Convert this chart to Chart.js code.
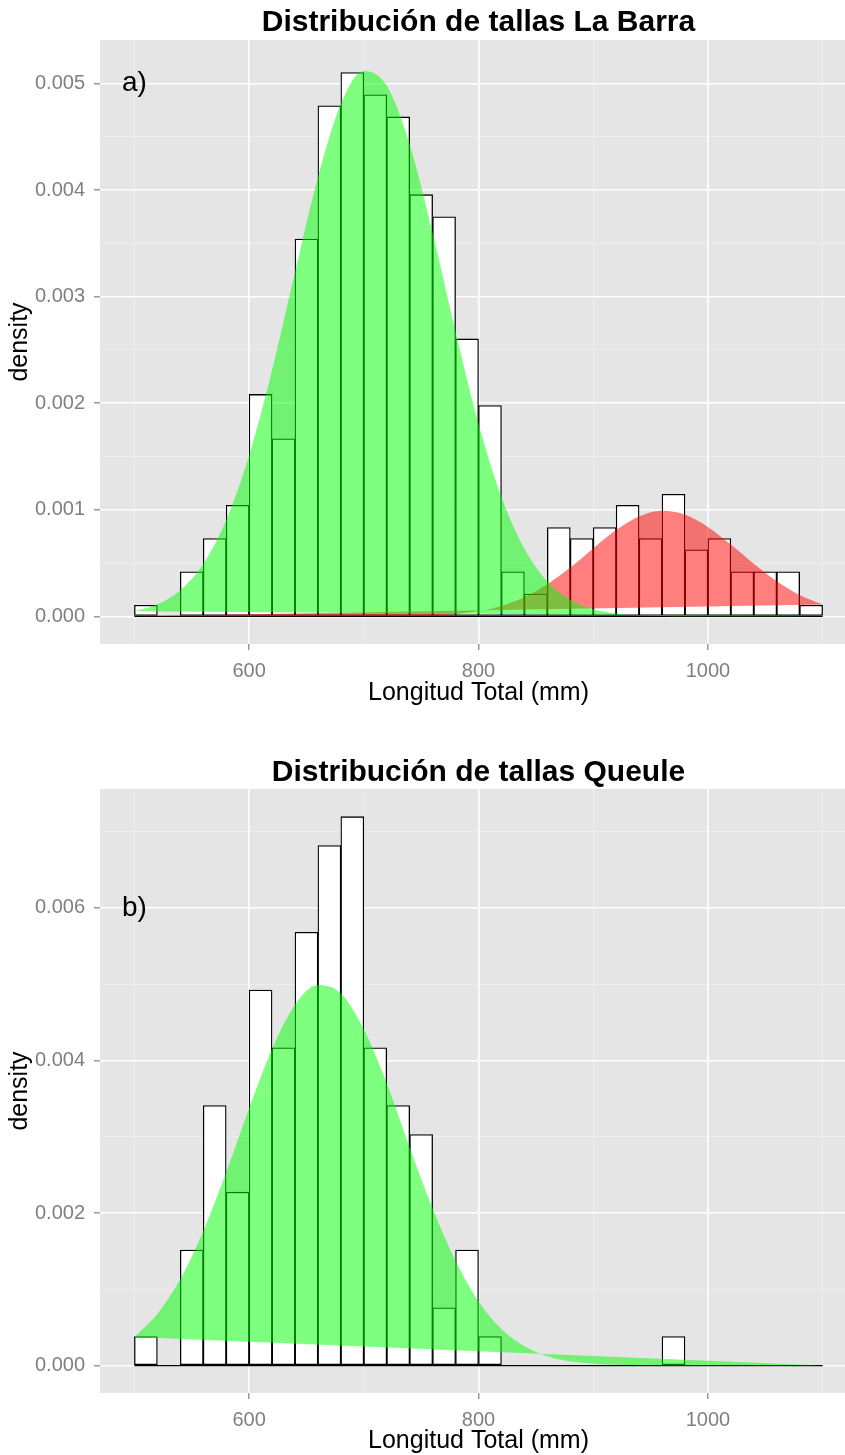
<!DOCTYPE html>
<html>
<head>
<meta charset="utf-8">
<title>Distribución de tallas</title>
<script src="https://cdn.jsdelivr.net/npm/chart.js@4.4.1/dist/chart.umd.min.js"></script>
<style>
  html, body { margin: 0; padding: 0; background: #fff; overflow: hidden; }
  canvas { position: absolute; left: 0; }
  #chartA { top: 0; }
  #chartB { top: 725px; }
</style>
</head>
<body>
<canvas id="chartA" width="857" height="725"></canvas>
<canvas id="chartB" width="857" height="730"></canvas>
<script>
'use strict';

// histogram bins (20 mm wide)
const binWidth = 20;
const binStart = [500, 520, 540, 560, 580, 600, 620, 640, 660, 680, 700, 720, 740, 760, 780,
  800, 820, 840, 860, 880, 900, 920, 940, 960, 980, 1000, 1020, 1040, 1060, 1080];

// bar heights (density)
const laBarraDensity = [0.000104, 0, 0.000417, 0.000729, 0.001042, 0.002083, 0.001667, 0.003542,
  0.004792, 0.005104, 0.004896, 0.004688, 0.003958, 0.003750, 0.002604, 0.001979, 0.000417,
  0.000208, 0.000833, 0.000729, 0.000833, 0.001042, 0.000729, 0.001146, 0.000625, 0.000729,
  0.000417, 0.000417, 0.000417, 0.000104];
const queuleDensity = [0.000379, 0, 0.001515, 0.003409, 0.002273, 0.004924, 0.004167, 0.005682,
  0.006818, 0.007197, 0.004167, 0.003409, 0.003030, 0.000758, 0.001515, 0.000379, 0, 0, 0, 0,
  0, 0, 0, 0.000379, 0, 0, 0, 0, 0, 0];

// fitted curves, read every 20 mm
const curveX = [500, 520, 540, 560, 580, 600, 620, 640, 660, 680, 700, 720, 740, 760, 780, 800,
  820, 840, 860, 880, 900, 920, 940, 960, 980, 1000, 1020, 1040, 1060, 1080, 1100];
const laBarraGreen = [0.0000464, 0.000112, 0.000245, 0.000492, 0.000902, 0.00151, 0.00231, 0.00323,
  0.00412, 0.00481, 0.00512, 0.00498, 0.00443, 0.00360, 0.00267, 0.00181, 0.00112, 0.000634,
  0.000327, 0.000155, 0.0000666, 0.0000263, 0.0000095, 0.000003, 0.000001, 0, 0, 0, 0, 0, 0];
const laBarraRed = [0, 0, 0, 0, 0, 0, 0, 0, 0, 0, 0.0000004, 0.000001, 0.000004, 0.0000092,
  0.0000221, 0.0000487, 0.0000978, 0.000179, 0.000300, 0.000457, 0.000637, 0.000809, 0.000937,
  0.000990, 0.000954, 0.000839, 0.000673, 0.000493, 0.000329, 0.000200, 0.000111];
const queuleGreen = [0.000374, 0.000677, 0.00113, 0.00176, 0.00253, 0.00337, 0.00415, 0.00473,
  0.00499, 0.00488, 0.00441, 0.00370, 0.00286, 0.00206, 0.00137, 0.00084, 0.000478, 0.000252,
  0.000123, 0.0000555, 0.0000233, 0.000009, 0.0000032, 0.000001, 0, 0, 0, 0, 0, 0, 0];

// axis ticks
const xTicks = [500, 600, 700, 800, 900, 1000, 1100];
const xMajor = [600, 800, 1000];
const yTicksA = [0, 0.0005, 0.001, 0.0015, 0.002, 0.0025, 0.003, 0.0035, 0.004, 0.0045, 0.005];
const yMajorA = [0, 0.001, 0.002, 0.003, 0.004, 0.005];
const yTicksB = [0, 0.001, 0.002, 0.003, 0.004, 0.005, 0.006, 0.007];
const yMajorB = [0, 0.002, 0.004, 0.006];

const FONT = '"Liberation Sans", Arial, sans-serif';
Chart.defaults.font.family = FONT;
Chart.defaults.color = '#000';

function isMajor(list, v) {
  return list.some(m => Math.abs(m - v) < 1e-9);
}

function barPoints(ys) {
  return binStart.map((b, i) => ({x: b + binWidth / 2, y: ys[i]}));
}

function curvePoints(ys) {
  return curveX.map((x, i) => ({x: x, y: ys[i]}));
}

// the polygon closes with a straight edge from last point back to first
function closingLine(ys) {
  let n = curveX.length - 1;
  return [{x: curveX[0], y: ys[0]}, {x: curveX[n], y: ys[n]}];
}

function baseline() {
  let last = binStart.length - 1;
  return [{x: binStart[0], y: 0}, {x: binStart[last] + binWidth, y: 0}];
}

// grey panel behind the grid
const panelBg = {
  id: 'panelBg',
  beforeDraw(chart) {
    const {ctx, chartArea: a} = chart;
    ctx.save();
    ctx.fillStyle = '#e5e5e5';
    ctx.fillRect(a.left, a.top, a.right - a.left, a.bottom - a.top);
    ctx.restore();
  }
};

// the "a)" / "b)" tag
const tagPlugin = {
  id: 'tag',
  afterDatasetsDraw(chart, args, opts) {
    const ctx = chart.ctx;
    ctx.save();
    ctx.font = '28px ' + FONT;
    ctx.fillStyle = '#000';
    ctx.textAlign = 'center';
    ctx.textBaseline = 'middle';
    ctx.fillText(opts.text, chart.scales.x.getPixelForValue(opts.x), chart.scales.y.getPixelForValue(opts.y));
    ctx.restore();
  }
};

function gridFor(major) {
  return {
    color: c => isMajor(major, c.tick.value) ? '#ffffff' : '#f2f2f2',
    lineWidth: c => isMajor(major, c.tick.value) ? 1.6 : 0.7,
    tickLength: 6,
    tickWidth: 1.2,
    tickColor: c => isMajor(major, c.tick.value) ? '#7f7f7f' : 'rgba(0,0,0,0)',
    offset: false
  };
}

function scalesFor(yMin, yMax, yTicks, yMajor, xHeight, xTitlePad) {
  return {
    x: {
      type: 'linear',
      min: 470,
      max: 1130,
      offset: false,
      afterBuildTicks: s => { s.ticks = xTicks.map(v => ({value: v})); },
      afterFit: s => { s.height = xHeight; },
      grid: gridFor(xMajor),
      border: {display: false},
      ticks: {
        autoSkip: false, maxRotation: 0, color: '#7f7f7f', padding: 9,
        font: {size: 20},
        callback: v => isMajor(xMajor, v) ? String(v) : ''
      },
      title: {
        display: true, text: 'Longitud Total (mm)', color: '#000',
        font: {size: 25, lineHeight: 1.1},
        padding: {top: 0, bottom: xTitlePad}
      }
    },
    y: {
      type: 'linear',
      min: yMin,
      max: yMax,
      afterBuildTicks: s => { s.ticks = yTicks.map(v => ({value: v})); },
      afterFit: s => { s.width = 100; },
      grid: gridFor(yMajor),
      border: {display: false},
      ticks: {
        autoSkip: false, color: '#7f7f7f', padding: 9,
        font: {size: 20},
        callback: v => isMajor(yMajor, v) ? v.toFixed(3) : ''
      },
      title: {
        display: true, text: 'density', color: '#000',
        font: {size: 25, lineHeight: 1.1},
        padding: {top: 6, bottom: 0}
      }
    }
  };
}

function barSet(ys) {
  return {
    type: 'bar', data: barPoints(ys), order: 5,
    backgroundColor: '#ffffff', borderColor: '#000000', borderWidth: 1.3,
    borderSkipped: false, barPercentage: 1, categoryPercentage: 1
  };
}

function baseSet() {
  return {
    type: 'line', data: baseline(), order: 4,
    borderColor: '#000000', borderWidth: 1.3, pointRadius: 0, fill: false
  };
}

function curveSet(ys, color, target, order) {
  return {
    type: 'line', data: curvePoints(ys), order: order,
    borderColor: 'rgba(0,0,0,0)', borderWidth: 0, pointRadius: 0,
    cubicInterpolationMode: 'monotone',
    backgroundColor: color, fill: target
  };
}

function closeSet(ys) {
  return {
    type: 'line', data: closingLine(ys), order: 6,
    borderColor: 'rgba(0,0,0,0)', borderWidth: 0, pointRadius: 0, fill: false
  };
}

const commonOpts = {
  responsive: false,
  devicePixelRatio: 1,
  animation: false,
  events: [],
  layout: {padding: 0}
};

function titleOpts(text, padTop, padBottom) {
  return {
    display: true, text: text, color: '#000', fullSize: false,
    font: {size: 30, weight: 'bold', lineHeight: 1.1},
    padding: {top: padTop, bottom: padBottom}
  };
}

// panel a) La Barra
new Chart(document.getElementById('chartA'), {
  type: 'bar',
  data: {
    datasets: [
      barSet(laBarraDensity),
      baseSet(),
      curveSet(laBarraRed, 'rgba(255,0,0,0.5)', 3, 3),
      closeSet(laBarraRed),
      curveSet(laBarraGreen, 'rgba(0,255,0,0.5)', 5, 2),
      closeSet(laBarraGreen)
    ]
  },
  options: Object.assign({}, commonOpts, {
    scales: scalesFor(-0.00026, 0.00541, yTicksA, yMajorA, 81, 18),
    plugins: {
      legend: {display: false},
      tooltip: {enabled: false},
      title: titleOpts('Distribución de tallas La Barra', 6, 1),
      tag: {text: 'a)', x: 500, y: 0.005}
    }
  }),
  plugins: [panelBg, tagPlugin]
});

// panel b) Queule
new Chart(document.getElementById('chartB'), {
  type: 'bar',
  data: {
    datasets: [
      barSet(queuleDensity),
      baseSet(),
      curveSet(queuleGreen, 'rgba(0,255,0,0.5)', 3, 2),
      closeSet(queuleGreen)
    ]
  },
  options: Object.assign({}, commonOpts, {
    scales: scalesFor(-0.00036, 0.00756, yTicksB, yMajorB, 62, 0),
    plugins: {
      legend: {display: false},
      tooltip: {enabled: false},
      title: titleOpts('Distribución de tallas Queule', 31.5, -0.5),
      tag: {text: 'b)', x: 500, y: 0.006}
    }
  }),
  plugins: [panelBg, tagPlugin]
});
</script>
</body>
</html>
